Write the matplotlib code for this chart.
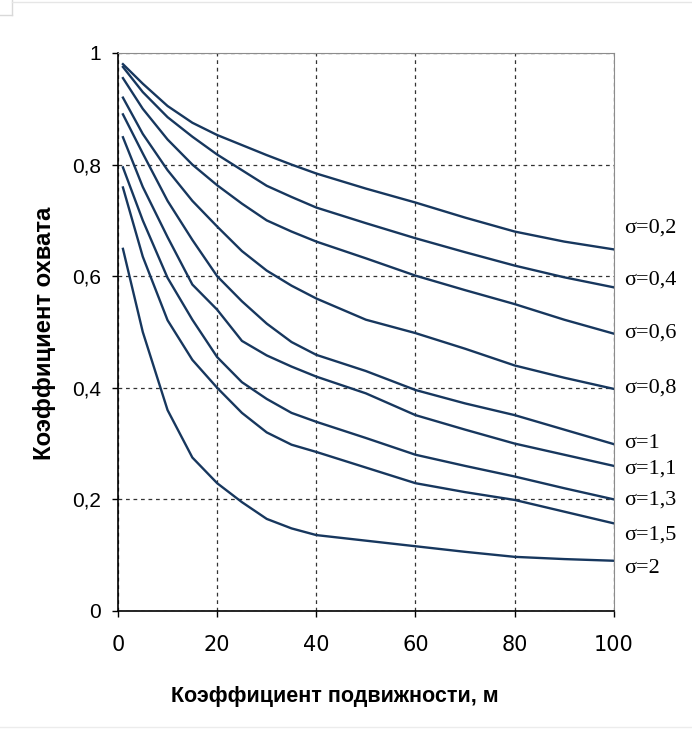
"""
Coverage coefficient vs. mobility coefficient for several sigma values.
"""

import matplotlib

matplotlib.use("Agg")

import matplotlib.pyplot as plt
from matplotlib.lines import Line2D


# ---------------------------------------------------------------------
# Data
# ---------------------------------------------------------------------

mobility = [1, 5, 10, 15, 20, 25, 30, 35, 40, 50, 60, 70, 80, 90, 100]

sigma_labels = ["σ=0,2", "σ=0,4", "σ=0,6", "σ=0,8", "σ=1",
                "σ=1,1", "σ=1,3", "σ=1,5", "σ=2"]

cov_s02 = [0.98, 0.945, 0.905, 0.875, 0.853, 0.835, 0.817, 0.80, 0.784,
           0.757, 0.732, 0.705, 0.68, 0.662, 0.648]
cov_s04 = [0.975, 0.93, 0.885, 0.85, 0.818, 0.79, 0.762, 0.742, 0.723,
           0.695, 0.668, 0.643, 0.619, 0.598, 0.58]
cov_s06 = [0.955, 0.90, 0.845, 0.80, 0.763, 0.73, 0.70, 0.68, 0.662,
           0.632, 0.601, 0.575, 0.55, 0.522, 0.497]
cov_s08 = [0.92, 0.855, 0.79, 0.735, 0.689, 0.645, 0.61, 0.583, 0.56,
           0.522, 0.498, 0.47, 0.44, 0.418, 0.398]
cov_s10 = [0.89, 0.82, 0.735, 0.665, 0.60, 0.555, 0.515, 0.482, 0.459,
           0.43, 0.396, 0.372, 0.351, 0.325, 0.299]
cov_s11 = [0.849, 0.76, 0.67, 0.585, 0.54, 0.484, 0.458, 0.438, 0.42,
           0.39, 0.351, 0.325, 0.30, 0.28, 0.26]
cov_s13 = [0.795, 0.70, 0.597, 0.522, 0.455, 0.41, 0.38, 0.355, 0.339,
           0.31, 0.28, 0.26, 0.241, 0.22, 0.2]
cov_s15 = [0.759, 0.635, 0.521, 0.45, 0.40, 0.355, 0.32, 0.298, 0.285,
           0.257, 0.229, 0.213, 0.199, 0.178, 0.157]
cov_s20 = [0.649, 0.50, 0.36, 0.275, 0.229, 0.195, 0.165, 0.148, 0.136,
           0.126, 0.116, 0.106, 0.097, 0.093, 0.09]

x_ticks = [0, 20, 40, 60, 80, 100]
y_ticks = [0, 0.2, 0.4, 0.6, 0.8, 1.0]
y_tick_labels = ["0", "0,2", "0,4", "0,6", "0,8", "1"]

# where the sigma captions sit (y in data units, right of the axes)
label_y = [0.686, 0.593, 0.498, 0.400, 0.301, 0.254, 0.199, 0.136, 0.077]

LINE_COLOR = "#17375e"


def main() -> None:
    series = [cov_s02, cov_s04, cov_s06, cov_s08, cov_s10,
              cov_s11, cov_s13, cov_s15, cov_s20]

    fig = plt.figure(figsize=(6.92, 7.31), dpi=100)
    ax = fig.add_axes([0.1705, 0.1642, 0.7165, 0.7633])

    for values in series:
        ax.plot(mobility, values, color=LINE_COLOR, linewidth=1.7)

    ax.set_xlim(0, 100)
    ax.set_ylim(0, 1)
    ax.set_xticks(x_ticks)
    ax.set_yticks(y_ticks)
    ax.set_yticklabels(y_tick_labels)

    for lbl in ax.get_xticklabels():
        lbl.set_fontfamily("DejaVu Sans")
        lbl.set_fontsize(15)
    for lbl in ax.get_yticklabels():
        lbl.set_fontfamily("Liberation Sans")
        lbl.set_fontsize(15)
    ax.tick_params(direction="out", length=4, width=1)
    ax.tick_params(axis="x", pad=13)
    ax.tick_params(axis="y", pad=8)

    ax.grid(True, color="#333333", linestyle=(0, (3, 3)), linewidth=0.9)
    ax.set_axisbelow(True)

    ax.spines["left"].set_color("black")
    ax.spines["bottom"].set_color("black")
    ax.spines["left"].set_linewidth(1.2)
    ax.spines["bottom"].set_linewidth(1.2)
    ax.spines["top"].set_color("#8c8c8c")
    ax.spines["right"].set_color("#8c8c8c")

    label_font = ["Liberation Sans Narrow", "Liberation Sans"]
    ax.set_xlabel("Коэффициент подвижности, м", family=label_font,
                  fontsize=15.5, fontweight="bold")
    ax.xaxis.set_label_coords(0.4375, -0.135)
    ax.set_ylabel("Коэффициент охвата", family=label_font,
                  fontsize=17.2, fontweight="bold")
    ax.yaxis.set_label_coords(-0.126, 0.498)

    for text, y in zip(sigma_labels, label_y):
        ax.text(102, y, text, family="Liberation Serif", fontsize=16,
                va="center", ha="left", clip_on=False)

    # faint screenshot frame lines
    fig.add_artist(Line2D([0, 0.018], [0.979, 0.979], color="#d9d9d9",
                          linewidth=1, transform=fig.transFigure))
    fig.add_artist(Line2D([0.018, 0.018], [0.979, 1.0], color="#d9d9d9",
                          linewidth=1, transform=fig.transFigure))
    fig.add_artist(Line2D([0.018, 1.0], [0.997, 0.997], color="#e6e6e6",
                          linewidth=1, transform=fig.transFigure))
    fig.add_artist(Line2D([0, 1.0], [0.006, 0.006], color="#ececec",
                          linewidth=1, transform=fig.transFigure))

    fig.savefig("out.png", dpi=100, facecolor="white")
    plt.close(fig)


if __name__ == "__main__":
    main()
